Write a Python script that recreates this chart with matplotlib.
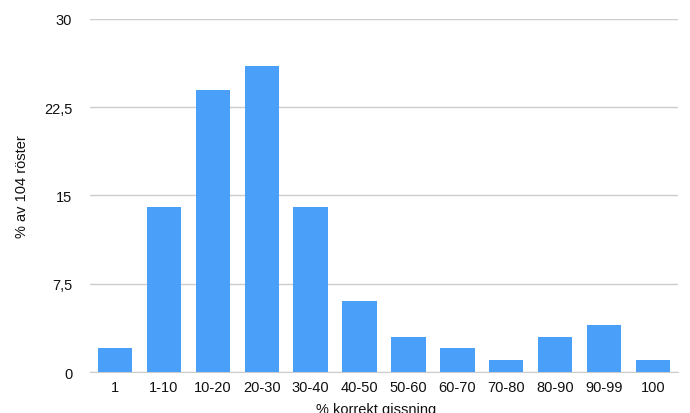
import matplotlib
matplotlib.use("Agg")
import matplotlib.pyplot as plt
from matplotlib.ticker import FixedLocator

plt.rcParams['font.family'] = ['Liberation Sans', 'DejaVu Sans']

categories = ["1", "1-10", "10-20", "20-30", "30-40", "40-50", "50-60",
              "60-70", "70-80", "80-90", "90-99", "100"]
values = [2, 14, 24, 26, 14, 6, 3, 2, 1, 3, 4, 1]
yticks = [0, 7.5, 15, 22.5, 30]
ytick_labels = ["0", "7,5", "15", "22,5", "30"]

fig = plt.figure(figsize=(6.9, 4.14), dpi=100)
ax = fig.add_axes([0.131, 0.099, 0.851, 0.853])

x = list(range(len(categories)))
ax.bar(x, values, width=0.70, color="#4A9FF8", zorder=3)
ax.set_xlim(-0.5, len(categories) - 0.5)
ax.set_ylim(0, 30)
ax.yaxis.set_major_locator(FixedLocator(yticks))
ax.set_yticklabels(ytick_labels)
ax.set_xticks(x)
ax.set_xticklabels(categories)
ax.grid(axis="y", color="#cccccc", linewidth=1, zorder=0)
for s in ["top", "right", "left"]:
    ax.spines[s].set_visible(False)
ax.spines["bottom"].set_color("#cccccc")
ax.tick_params(axis="both", length=0, labelsize=10.5, colors="#111111")
ax.tick_params(axis="y", pad=13)
ax.tick_params(axis="x", pad=6)

fig.text(22 / 690, 1 - 187 / 414, "% av 104 röster", rotation=90,
         ha="center", va="center", fontsize=10.5, color="#111111")

fig.text(0.545, 1 - 403 / 414, "% korrekt gissning", ha="center", va="top",
         fontsize=10.5, color="#111111")

fig.savefig("out.png", dpi=100)
